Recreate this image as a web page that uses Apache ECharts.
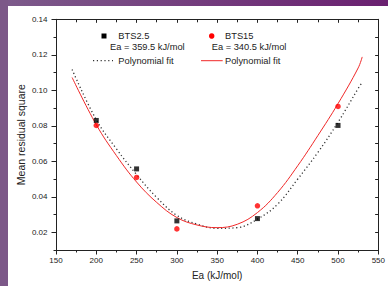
<!DOCTYPE html>
<html>
<head>
<meta charset="utf-8">
<script src="https://cdn.jsdelivr.net/npm/echarts@6/dist/echarts.min.js"></script>
<style>
  html, body { margin: 0; padding: 0; background: #ffffff; }
  #wrap { position: relative; width: 388px; height: 286px; overflow: hidden; background: #ffffff; }
  #chart { position: absolute; left: 0; top: 0; width: 388px; height: 286px; }
  #frameTop { position: absolute; left: 0; top: 0; width: 388px; height: 6px; background: linear-gradient(to right, #7d5b8b, #6a2070); z-index: 5; }
  #frameLeft { position: absolute; left: 0; top: 0; width: 8px; height: 286px; background: #7c5888; z-index: 5; }
</style>
</head>
<body>
<div id="wrap">
  <div id="chart"></div>
  <div id="frameTop"></div>
  <div id="frameLeft"></div>
</div>
<script>
// ---- data ----
const eaPoints = [200, 250, 300, 400, 500];
const bts25 = [0.0830, 0.0557, 0.0264, 0.0277, 0.0802];
const bts15 = [0.0802, 0.0509, 0.0219, 0.0349, 0.0909];

const fitEa = [170, 200, 225, 250, 275, 300, 325, 350, 375, 400, 425, 450, 475, 500, 525, 530];
const fitBts25 = [0.1117, 0.0834, 0.0670, 0.0525, 0.0396, 0.0295, 0.0246, 0.0222, 0.0226, 0.0274, 0.0358, 0.0500, 0.0650, 0.0820, 0.1010, 0.1045];
const fitBts15 = [0.1072, 0.0806, 0.0632, 0.0483, 0.0368, 0.0283, 0.0241, 0.0226, 0.0245, 0.0311, 0.0424, 0.0575, 0.0745, 0.0925, 0.1126, 0.1188];

const yMajorTicks = [0.02, 0.04, 0.06, 0.08, 0.10, 0.12, 0.14];
const xTitle = 'Ea (kJ/mol)';
const yTitle = 'Mean residual square';
const name25 = 'BTS2.5';
const name15 = 'BTS15';
const eaText25 = 'Ea = 359.5 kJ/mol';
const eaText15 = 'Ea = 340.5 kJ/mol';
const fitLabel = 'Polynomial fit';

const zip = (xs, ys) => xs.map((x, i) => [x, ys[i]]);

const FONT = 'Liberation Sans, Arial, sans-serif';
const AX = '#222222';
const RED = '#f02828';
const LEG_FS = 9.3;
const TICK_FS = 8;

const chart = echarts.init(document.getElementById('chart'), null, { renderer: 'svg' });

const xBase = { type: 'value', min: 150, max: 550, interval: 50, splitLine: { show: false } };
const yBase = { type: 'value', min: 0.01, max: 0.14, splitLine: { show: false } };

const legText = (txt, x, y) => ({ type: 'text', x: x, y: y, z: 10,
  style: { text: txt, fontSize: LEG_FS, fill: AX, fontFamily: FONT, verticalAlign: 'middle', align: 'left' } });

chart.setOption({
  animation: false,
  backgroundColor: '#ffffff',
  textStyle: { fontFamily: FONT },
  grid: { left: 56, right: 9.5, top: 19.3, bottom: 36, containLabel: false },
  xAxis: [
    Object.assign({}, xBase, {
      position: 'bottom',
      name: xTitle, nameLocation: 'middle', nameGap: 20,
      nameTextStyle: { fontSize: 10, color: AX, fontFamily: FONT },
      axisLine: { show: true, lineStyle: { color: AX, width: 1 } },
      axisTick: { show: true, inside: false, length: 4.5, lineStyle: { color: AX } },
      minorTick: { show: true, splitNumber: 2, length: 2.5, lineStyle: { color: AX } },
      axisLabel: { fontSize: TICK_FS, color: AX, margin: 6.5, fontFamily: FONT }
    }),
    Object.assign({}, xBase, {
      position: 'top',
      axisLine: { show: true, lineStyle: { color: AX, width: 1 } },
      axisTick: { show: true, inside: true, length: 3.5, lineStyle: { color: AX } },
      minorTick: { show: true, splitNumber: 2, length: 3, lineStyle: { color: AX } },
      axisLabel: { show: false }
    })
  ],
  yAxis: [
    Object.assign({}, yBase, {
      position: 'left',
      interval: 0.01,
      name: yTitle, nameLocation: 'middle', nameGap: 30,
      nameTextStyle: { fontSize: 10.5, color: AX, fontFamily: FONT },
      axisLine: { show: true, lineStyle: { color: AX, width: 1 } },
      axisTick: { show: true, inside: false, length: 2.5, lineStyle: { color: AX } },
      axisLabel: { show: false }
    }),
    Object.assign({}, yBase, {
      position: 'left',
      axisLine: { show: false },
      axisTick: { show: true, inside: false, length: 4.5, customValues: yMajorTicks, lineStyle: { color: AX } },
      axisLabel: { show: true, customValues: yMajorTicks, fontSize: TICK_FS, color: AX, margin: 8.5, fontFamily: FONT,
                   formatter: v => Number(v).toFixed(2) }
    }),
    Object.assign({}, yBase, {
      position: 'right',
      interval: 0.01,
      axisLine: { show: true, lineStyle: { color: AX, width: 1 } },
      axisTick: { show: true, inside: true, length: 3.2, lineStyle: { color: AX } },
      axisLabel: { show: false }
    })
  ],
  graphic: [
    { type: 'rect', z: 10, shape: { x: 101.5, y: 33.5, width: 5, height: 5 }, style: { fill: '#000000' } },
    legText(name25, 118.3, 36),
    legText(eaText25, 110, 47.3),
    { type: 'line', z: 10, shape: { x1: 93, y1: 60.7, x2: 113, y2: 60.7 },
      style: { stroke: '#333333', lineWidth: 1.3, lineDash: [1.2, 2.6] } },
    legText(fitLabel, 118.3, 60.5),
    { type: 'circle', z: 10, shape: { cx: 211.7, cy: 36, r: 2.75 }, style: { fill: '#ff0000' } },
    legText(name15, 225, 36),
    legText(eaText15, 211.7, 47.3),
    { type: 'line', z: 10, shape: { x1: 201, y1: 60.7, x2: 222.7, y2: 60.7 },
      style: { stroke: RED, lineWidth: 1 } },
    legText(fitLabel, 225, 60.5)
  ],
  series: [
    { name: 'fit25', type: 'line', xAxisIndex: 0, yAxisIndex: 0, data: zip(fitEa, fitBts25), smooth: 0.4,
      symbol: 'none', lineStyle: { color: '#333333', width: 1.3, type: [1.2, 2.6] }, z: 2 },
    { name: 'fit15', type: 'line', xAxisIndex: 0, yAxisIndex: 0, data: zip(fitEa, fitBts15), smooth: 0.4,
      symbol: 'none', lineStyle: { color: RED, width: 1 }, z: 2 },
    { name: name25, type: 'scatter', xAxisIndex: 0, yAxisIndex: 0, data: zip(eaPoints, bts25),
      symbol: 'rect', symbolSize: 5, itemStyle: { color: '#000000' }, z: 3 },
    { name: name15, type: 'scatter', xAxisIndex: 0, yAxisIndex: 0, data: zip(eaPoints, bts15),
      symbol: 'circle', symbolSize: 5.5, itemStyle: { color: '#ff0000' }, z: 3 }
  ]
});
</script>
</body>
</html>
